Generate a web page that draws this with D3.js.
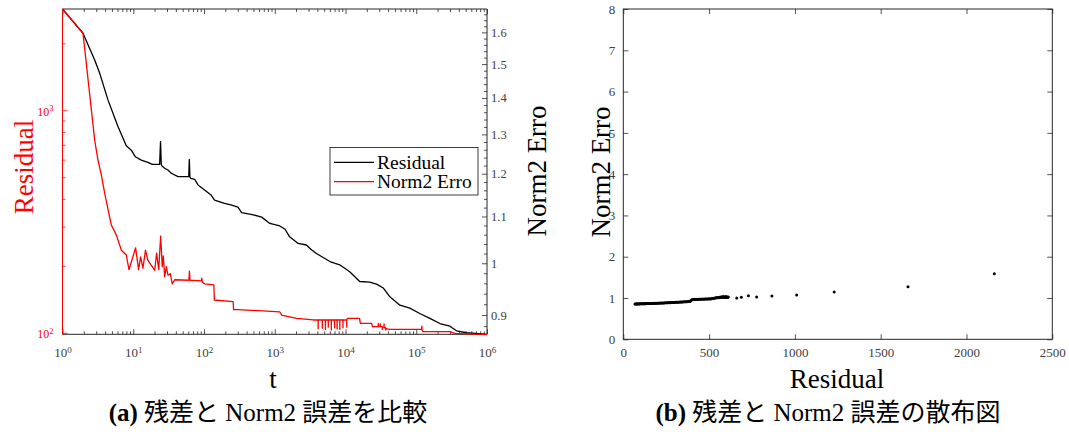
<!DOCTYPE html>
<html>
<head>
<meta charset="utf-8">
<script src="https://cdn.jsdelivr.net/npm/d3@7"></script>
<style>
  html, body { margin: 0; padding: 0; background: #fff; }
  svg { display: block; }
  text { font-family: "Liberation Serif", "Times New Roman", "Noto Sans CJK JP", serif; }
</style>
</head>
<body>
<svg id="fig" width="1069" height="438"></svg>
<script>
// ---- (a) residual and Norm2 error against iteration t ----
const residualT = [1, 1.95, 2.85, 3.36, 4.4, 6.1, 7.97, 9.4, 10.7, 13.0, 16.1, 18.6, 23.6, 24.3, 24.9,
  25.7, 27.8, 30.9, 34.5, 42.9, 60.8, 62.0, 63.3, 64.9, 73.8, 82.3, 101.8, 126, 141, 195, 240, 302,
  340, 480, 654, 853, 1176, 1400, 1623, 2140, 2800, 3300, 3880, 6030, 8280, 11460, 15900, 22000,
  28000, 34100, 42400, 58700, 81200, 112000, 156000, 216000, 299000, 371000, 514000, 1000000];
const residualVal = [2854, 2220, 1683, 1466, 1111, 844, 693, 662, 618, 597, 583, 571, 571, 723, 571,
  560, 549, 539, 521, 503, 503, 601, 500, 494, 489, 462, 438, 416, 395, 382, 376, 367,
  347, 340, 331, 310, 302, 292, 270, 252, 248, 236, 227, 209, 202, 188, 170, 169,
  165, 159, 145, 133, 129, 122, 116, 110, 107, 102, 100, 98.4];

const errorT = [1, 1.95, 2.85, 3.17, 3.54, 3.95, 4.9, 5.77, 6.8, 7.97, 8.7, 10.8, 11.9, 12.7, 13.7,
  14.9, 16.1, 20.1, 21.4, 22.9, 24.4, 25.7, 26.6, 27.8, 29.3, 31, 33.4, 35.6, 38.6, 61.1, 62.3, 63.5,
  91.5, 93, 95, 101.8, 138, 140, 258, 262, 302, 1176, 1250, 2030, 3500,
  4100, 4110, 4120, 4700, 4710, 4720, 5200, 5210, 5220, 5700, 5710, 5720, 6300, 6310, 6320,
  7000, 7010, 7020, 7600, 7610, 7620, 8300, 8310, 8320, 9200, 9210, 9220, 10400, 10410, 10420,
  10600, 15800, 16200, 23500, 24000,
  29000, 29100, 29200, 31000, 31100, 31200, 33000, 33100, 33200, 35000, 35100, 35200, 37000, 37100,
  37200, 39000, 42400, 119000, 120000, 121000, 125000, 299000, 350000, 1000000];
const errorVal = [1.678, 1.597, 1.285, 1.234, 1.197, 1.153, 1.081, 1.059, 1.027, 1.017, 0.987, 1.032,
  0.987, 1.013, 0.990, 1.027, 1.006, 0.986, 1.021, 0.987, 1.057, 0.993, 1.015, 0.973, 0.993, 0.976,
  0.979, 0.959, 0.967, 0.966, 0.984, 0.966, 0.965, 0.970, 0.962, 0.959, 0.957, 0.928, 0.925, 0.910,
  0.910, 0.906, 0.900, 0.894, 0.891,
  0.891, 0.875, 0.891, 0.891, 0.876, 0.891, 0.891, 0.874, 0.891, 0.891, 0.878, 0.891, 0.891, 0.873, 0.891,
  0.891, 0.877, 0.891, 0.891, 0.875, 0.891, 0.891, 0.874, 0.891, 0.891, 0.877, 0.891, 0.891, 0.878, 0.891,
  0.894, 0.894, 0.885, 0.885, 0.879,
  0.879, 0.885, 0.879, 0.879, 0.884, 0.879, 0.879, 0.874, 0.878, 0.878, 0.884, 0.877, 0.877, 0.873,
  0.876, 0.875, 0.874, 0.874, 0.880, 0.872, 0.870, 0.870, 0.867, 0.865];

// ---- (b) scatter of residual against Norm2 error ----
const scatterRes = [68, 72, 76, 80, 84, 88, 92, 96, 100, 104, 108, 112, 116, 120, 124, 128, 132, 136,
  140, 145, 150, 155, 160, 165, 170, 175, 180, 185, 190, 196, 202, 208, 214, 220, 226, 232, 238, 244,
  250, 256, 262, 268, 274, 280, 286, 292, 298, 304, 310, 316, 322, 328, 334, 340, 346, 352, 358, 364,
  370, 376, 382, 388, 392, 396, 400, 405, 410, 415, 420, 426, 432, 438, 444, 450, 456, 462, 468, 474,
  480, 486, 492, 498, 504, 510, 515, 520, 525, 530, 535, 540, 545, 550, 555, 560, 564, 568, 572, 576,
  580, 584, 588, 592, 596, 600, 604, 608, 612,
  661, 688, 729, 777, 866, 1010, 1229, 1659, 2162];
const scatterErr = [0.855, 0.858, 0.856, 0.859, 0.857, 0.860, 0.858, 0.861, 0.859, 0.862, 0.860, 0.863,
  0.861, 0.864, 0.862, 0.865, 0.864, 0.866, 0.865, 0.867, 0.866, 0.868, 0.867, 0.870, 0.869, 0.871,
  0.870, 0.873, 0.872, 0.874, 0.875, 0.877, 0.876, 0.879, 0.878, 0.881, 0.880, 0.884, 0.883, 0.886,
  0.885, 0.889, 0.888, 0.891, 0.890, 0.894, 0.893, 0.897, 0.896, 0.900, 0.899, 0.903, 0.902, 0.906,
  0.905, 0.909, 0.908, 0.912, 0.911, 0.916, 0.915, 0.920, 0.930, 0.945, 0.958, 0.965, 0.962, 0.968,
  0.965, 0.970, 0.967, 0.972, 0.969, 0.973, 0.970, 0.975, 0.972, 0.976, 0.974, 0.978, 0.975, 0.980,
  0.977, 0.983, 0.985, 0.990, 0.992, 0.996, 0.998, 1.004, 1.006, 1.012, 1.008, 1.020, 1.012, 1.026,
  1.015, 1.030, 1.018, 1.034, 1.020, 1.010, 1.036, 1.015, 1.028, 1.012, 1.022,
  1.000, 1.017, 1.056, 1.025, 1.049, 1.073, 1.145, 1.274, 1.589];

// axis limits and tick values
const tDomain = [1, 1e6];
const resDomain = [98.4, 2854];
const errDomain = [0.8654, 1.678];
const tDecades = [1, 10, 100, 1000, 10000, 100000, 1000000];
const resMajor = [100, 1000];
const errMajor = [0.9, 1, 1.1, 1.2, 1.3, 1.4, 1.5, 1.6];
const errLabels = ["0.9", "1", "1.1", "1.2", "1.3", "1.4", "1.5", "1.6"];
const scatXTicks = [0, 500, 1000, 1500, 2000, 2500];
const scatYTicks = [0, 1, 2, 3, 4, 5, 6, 7, 8];

const SERIF = '"Liberation Serif", "Times New Roman", serif';
const svg = d3.select("#fig");
svg.append("rect").attr("width", 1069).attr("height", 438).attr("fill", "#fff");

const FRAME = "#262626";
const LABEL = "#404040";
const RED = "#ff0000";

// ---------- panel (a) ----------
const A = { left: 62.5, right: 487, top: 9, bottom: 334.3 };
const xA = d3.scaleLog().domain(tDomain).range([A.left, A.right]);
const yRes = d3.scaleLog().domain(resDomain).range([A.bottom, A.top]);
const yErr = d3.scaleLog().domain(errDomain).range([A.bottom, A.top]);

const tMinor = [];
tDecades.slice(0, -1).forEach(d => { for (let k = 2; k <= 9; k++) tMinor.push(d * k); });
const resMinor = [200, 300, 400, 500, 600, 700, 800, 900, 2000];
const errMinor = d3.range(0.88, 1.67, 0.02).map(v => +v.toFixed(2))
  .filter(v => Math.abs(v * 10 - Math.round(v * 10)) > 1e-6);

const gA = svg.append("g");

function styleAxis(g, color) {
  g.attr("font-family", SERIF);
  g.select(".domain").remove();
  g.selectAll(".tick line").attr("stroke", color).attr("stroke-width", 0.8);
  g.selectAll(".tick text").attr("font-family", SERIF).attr("fill", color === RED ? RED : LABEL);
}

// bottom: decades with superscript exponents
const bottomA = gA.append("g").attr("transform", `translate(0,${A.bottom})`)
  .call(d3.axisBottom(xA).tickValues(tDecades).tickSize(-5).tickPadding(13.5).tickFormat(() => ""));
styleAxis(bottomA, FRAME);
bottomA.selectAll(".tick text").each(function(d) {
  const t = d3.select(this).attr("font-size", 13).attr("dy", "0.71em");
  t.text(null);
  t.append("tspan").text("10");
  t.append("tspan").attr("font-size", 9).attr("dy", "-0.45em").text(Math.round(Math.log10(d)));
});
gA.append("g").attr("transform", `translate(0,${A.bottom})`)
  .call(d3.axisBottom(xA).tickValues(tMinor).tickSize(-3).tickFormat(""))
  .call(g => styleAxis(g, FRAME));
gA.append("g").attr("transform", `translate(0,${A.top})`)
  .call(d3.axisTop(xA).tickValues(tDecades).tickSize(-5).tickFormat(""))
  .call(g => styleAxis(g, FRAME));
gA.append("g").attr("transform", `translate(0,${A.top})`)
  .call(d3.axisTop(xA).tickValues(tMinor).tickSize(-3).tickFormat(""))
  .call(g => styleAxis(g, FRAME));

// left: residual (log), red
const leftA = gA.append("g").attr("transform", `translate(${A.left},0)`)
  .call(d3.axisLeft(yRes).tickValues(resMajor).tickSize(-5).tickPadding(9).tickFormat(() => ""));
styleAxis(leftA, RED);
leftA.selectAll(".tick text").each(function(d) {
  const t = d3.select(this).attr("font-size", 12).attr("dy", "0.4em");
  t.text(null);
  t.append("tspan").text("10");
  t.append("tspan").attr("font-size", 8.5).attr("dy", "-0.5em").text(Math.round(Math.log10(d)));
});
gA.append("g").attr("transform", `translate(${A.left},0)`)
  .call(d3.axisLeft(yRes).tickValues(resMinor).tickSize(-3).tickFormat(""))
  .call(g => styleAxis(g, RED));

// right: Norm2 error (log)
const rightA = gA.append("g").attr("transform", `translate(${A.right},0)`)
  .call(d3.axisRight(yErr).tickValues(errMajor).tickSize(-5).tickPadding(4)
    .tickFormat((d, i) => errLabels[i]));
styleAxis(rightA, FRAME);
rightA.selectAll(".tick text").attr("font-size", 12.5);
gA.append("g").attr("transform", `translate(${A.right},0)`)
  .call(d3.axisRight(yErr).tickValues(errMinor).tickSize(-3).tickFormat(""))
  .call(g => styleAxis(g, FRAME));

// frame
gA.append("line").attr("x1", A.left).attr("x2", A.right).attr("y1", A.top).attr("y2", A.top)
  .attr("stroke", FRAME).attr("stroke-width", 1);
gA.append("line").attr("x1", A.left).attr("x2", A.right).attr("y1", A.bottom).attr("y2", A.bottom)
  .attr("stroke", FRAME).attr("stroke-width", 1);
gA.append("line").attr("x1", A.right).attr("x2", A.right).attr("y1", A.top).attr("y2", A.bottom)
  .attr("stroke", FRAME).attr("stroke-width", 1);
gA.append("line").attr("x1", A.left).attr("x2", A.left).attr("y1", A.top).attr("y2", A.bottom)
  .attr("stroke", RED).attr("stroke-width", 1);

// curves
const resLine = d3.line().x((d, i) => xA(residualT[i])).y(d => yRes(d));
const errLine = d3.line().x((d, i) => xA(errorT[i])).y(d => yErr(d));
gA.append("path").datum(residualVal).attr("d", resLine)
  .attr("fill", "none").attr("stroke", "#000").attr("stroke-width", 1.3).attr("stroke-linejoin", "round");
gA.append("path").datum(errorVal).attr("d", errLine)
  .attr("fill", "none").attr("stroke", RED).attr("stroke-width", 1.3).attr("stroke-linejoin", "round");

// legend
const leg = gA.append("g");
leg.append("rect").attr("x", 330).attr("y", 147.5).attr("width", 148).attr("height", 47.5)
  .attr("fill", "#fff").attr("stroke", FRAME).attr("stroke-width", 0.9);
[["Residual", "#000", 162.3], ["Norm2 Erro", RED, 181.7]].forEach(([name, c, y]) => {
  leg.append("line").attr("x1", 334).attr("x2", 374).attr("y1", y).attr("y2", y)
    .attr("stroke", c).attr("stroke-width", 1.3);
  leg.append("text").attr("x", 377).attr("y", y + 6.3).attr("font-size", 19.5).attr("fill", "#000").text(name);
});

// titles
gA.append("text").attr("transform", "translate(33,167) rotate(-90)").attr("text-anchor", "middle")
  .attr("font-size", 27).attr("fill", RED).text("Residual");
gA.append("text").attr("transform", "translate(546,171) rotate(-90)").attr("text-anchor", "middle")
  .attr("font-size", 27).attr("fill", "#000").text("Norm2 Erro");
gA.append("text").attr("x", 273).attr("y", 388).attr("text-anchor", "middle")
  .attr("font-size", 27).attr("fill", "#000").text("t");

// ---------- panel (b) ----------
const B = { left: 623.3, right: 1052.3, top: 9, bottom: 339.3 };
const xB = d3.scaleLinear().domain([0, 2500]).range([B.left, B.right]);
const yB = d3.scaleLinear().domain([0, 8]).range([B.bottom, B.top]);
const gB = svg.append("g");

const botB = gB.append("g").attr("transform", `translate(0,${B.bottom})`)
  .call(d3.axisBottom(xB).tickValues(scatXTicks).tickSize(-5).tickPadding(8).tickFormat(d3.format("d")));
styleAxis(botB, FRAME);
botB.selectAll(".tick text").attr("font-size", 13);
gB.append("g").attr("transform", `translate(0,${B.top})`)
  .call(d3.axisTop(xB).tickValues(scatXTicks).tickSize(-5).tickFormat(""))
  .call(g => styleAxis(g, FRAME));
const leftB = gB.append("g").attr("transform", `translate(${B.left},0)`)
  .call(d3.axisLeft(yB).tickValues(scatYTicks).tickSize(-5).tickPadding(8).tickFormat(d3.format("d")));
styleAxis(leftB, FRAME);
leftB.selectAll(".tick text").attr("font-size", 13);
gB.append("g").attr("transform", `translate(${B.right},0)`)
  .call(d3.axisRight(yB).tickValues(scatYTicks).tickSize(-5).tickFormat(""))
  .call(g => styleAxis(g, FRAME));
gB.append("rect").attr("x", B.left).attr("y", B.top).attr("width", B.right - B.left)
  .attr("height", B.bottom - B.top).attr("fill", "none").attr("stroke", FRAME).attr("stroke-width", 1);

gB.append("g").selectAll("circle").data(scatterRes).join("circle")
  .attr("cx", d => xB(d)).attr("cy", (d, i) => yB(scatterErr[i])).attr("r", 1.5).attr("fill", "#000");

gB.append("text").attr("x", 837).attr("y", 388).attr("text-anchor", "middle")
  .attr("font-size", 27).attr("fill", "#000").text("Residual");
gB.append("text").attr("transform", "translate(610,172) rotate(-90)").attr("text-anchor", "middle")
  .attr("font-size", 27).attr("fill", "#000").text("Norm2 Erro");

// ---------- captions ----------
function caption(x, tag, rest) {
  const t = svg.append("text").attr("x", x).attr("y", 421).attr("text-anchor", "middle")
    .attr("font-size", 25).attr("fill", "#000");
  t.append("tspan").attr("font-weight", "bold").text(tag);
  t.append("tspan").text(rest);
}
caption(268, "(a)", " 残差と Norm2 誤差を比較");
caption(828, "(b)", " 残差と Norm2 誤差の散布図");
</script>
</body>
</html>
